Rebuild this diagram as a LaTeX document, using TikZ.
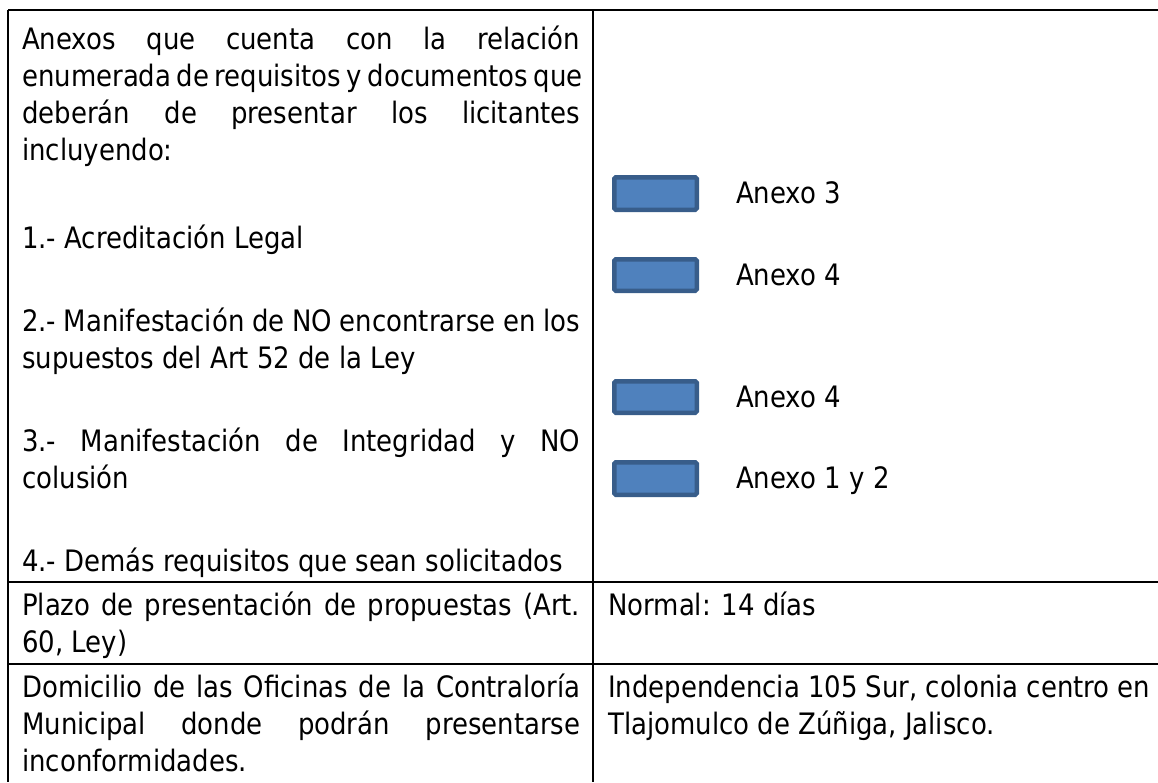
\documentclass[tikz,border=0pt]{standalone}
\usepackage{fontspec}
\setmainfont[FakeStretch=0.88]{DejaVu Sans}
\begin{document}
\begin{tikzpicture}[x=1pt,y=-1pt,
  rule/.style={line width=1.8pt,black},
  txt/.style={anchor=base west,inner sep=0pt,font=\fontsize{29.5}{34}\selectfont},
  bluebox/.style={draw={rgb,255:red,56;green,93;blue,138},fill={rgb,255:red,79;green,129;blue,189},line width=4.5pt,rounded corners=1.5pt}]
\useasboundingbox (0,0) rectangle (1158,782);
% table rules
\coordinate (tl) at (8,10); \coordinate (tr) at (1158,10);
\coordinate (bl) at (8,782);
\coordinate (ct) at (593,10); \coordinate (cb) at (593,782);
\coordinate (r1l) at (8,582); \coordinate (r1r) at (1158,582);
\coordinate (r2l) at (8,664); \coordinate (r2r) at (1158,664);
\draw[rule] (tl) -- (tr);
\draw[rule] (tl) -- (bl);
\draw[rule] (ct) -- (cb);
\draw[rule] (r1l) -- (r1r);
\draw[rule] (r2l) -- (r2r);
% row 1 left
\node[txt] (a1) at (22,49) {\makebox[558pt][s]{Anexos que cuenta con la relación}};
\node[txt] (a2) at (22,86) {\makebox[558pt][s]{enumerada de requisitos y documentos que}};
\node[txt] (a3) at (22,123) {\makebox[558pt][s]{deberán de presentar los licitantes}};
\node[txt] (a4) at (22,160) {incluyendo:};
\node[txt] (a5) at (22,248) {1.- Acreditación Legal};
\node[txt] (a6) at (22,331) {\makebox[558pt][s]{2.- Manifestación de NO encontrarse en los}};
\node[txt] (a7) at (22,368) {supuestos del Art 52 de la Ley};
\node[txt] (a8) at (22,451) {\makebox[558pt][s]{3.- Manifestación de Integridad y NO}};
\node[txt] (a9) at (22,488) {colusión};
\node[txt] (a10) at (22,571) {4.- Demás requisitos que sean solicitados};
% row 1 right
\draw[bluebox] (614.25,177.25) rectangle (696.75,209.75);
\draw[bluebox] (614.25,259.25) rectangle (696.75,290.75);
\draw[bluebox] (614.25,381.25) rectangle (696.75,412.75);
\draw[bluebox] (614.25,462.25) rectangle (696.75,494.75);
\node[txt] (x1) at (736,203) {Anexo 3};
\node[txt] (x2) at (736,285) {Anexo 4};
\node[txt] (x3) at (736,407) {Anexo 4};
\node[txt] (x4) at (736,488) {Anexo 1 y 2};
% row 2
\node[txt] (b1) at (22,615) {\makebox[558pt][s]{Plazo de presentación de propuestas (Art.}};
\node[txt] (b2) at (22,652) {60, Ley)};
\node[txt] (b3) at (608,615) {Normal: 14 días};
% row 3
\node[txt] (c1) at (22,697) {\makebox[558pt][s]{Domicilio de las Oficinas de la Contraloría}};
\node[txt] (c2) at (22,734) {\makebox[558pt][s]{Municipal donde podrán presentarse}};
\node[txt] (c3) at (22,771) {inconformidades.};
\node[txt] (d1) at (608,697) {\makebox[542pt][s]{Independencia 105 Sur, colonia centro en}};
\node[txt] (d2) at (608,734) {Tlajomulco de Zúñiga, Jalisco.};
\end{tikzpicture}
\end{document}
